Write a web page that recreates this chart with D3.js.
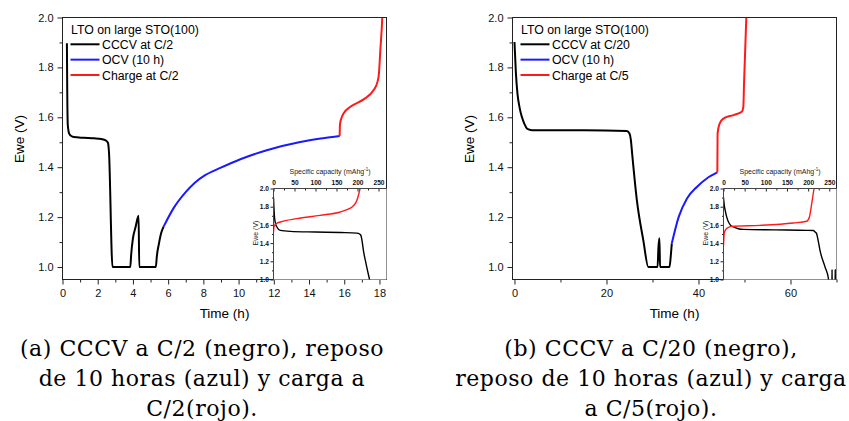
<!DOCTYPE html>
<html>
<head>
<meta charset="utf-8">
<script src="https://cdn.jsdelivr.net/npm/d3@7"></script>
<style>
  body { margin: 0; background: #fff; }
  svg { display: block; }
</style>
</head>
<body>
<svg id="chart" width="849" height="421"></svg>
<script>
// ---- data (time in h / capacity in mAh/g, voltage in V) ----
const legendTitle = "LTO on large STO(100)";
const leftLegend = ["CCCV at C/2", "OCV (10 h)", "Charge at C/2"];
const rightLegend = ["CCCV at C/20", "OCV (10 h)", "Charge at C/5"];
const seriesColors = ["#000000", "#1a1aff", "#ff1a1a"];

const leftTimeTicks = [0, 2, 4, 6, 8, 10, 12, 14, 16, 18];
const leftTimeMinor = [1, 3, 5, 7, 9, 11, 13, 15, 17];
const rightTimeTicks = [0, 20, 40, 60];
const rightTimeMinor = [10, 30, 50, 70];
const voltTicks = [1.0, 1.2, 1.4, 1.6, 1.8, 2.0];
const voltMinor = [1.1, 1.3, 1.5, 1.7, 1.9];
const capTicks = [0, 50, 100, 150, 200, 250];
const capMinor = [25, 75, 125, 175, 225];

const leftCccv = [[0.25, 1.897], [0.27, 1.70], [0.30, 1.57], [0.38, 1.535], [0.5, 1.525], [0.64, 1.521],
  [1.2, 1.518], [1.8, 1.516], [2.2, 1.513], [2.45, 1.508], [2.58, 1.498], [2.64, 1.46], [2.84, 1.0],
  [3.85, 1.0], [3.9, 1.05], [4.0, 1.115], [4.15, 1.16], [4.32, 1.205], [4.36, 1.0], [5.3, 1.0],
  [5.36, 1.045], [5.48, 1.095], [5.6, 1.135], [5.75, 1.163]];
const leftOcv = [[5.75, 1.163], [6.3, 1.235], [6.97, 1.298], [7.5, 1.337], [8.1, 1.368], [8.96, 1.397],
  [10.1, 1.432], [11.6, 1.468], [13.5, 1.501], [14.8, 1.516], [15.74, 1.525]];
const leftCharge = [[15.74, 1.525], [15.76, 1.573], [15.85, 1.598], [15.97, 1.616], [16.35, 1.642],
  [17.1, 1.672], [17.67, 1.709], [17.88, 1.74], [17.97, 1.775], [18.05, 1.869], [18.16, 2.0], [18.2, 2.08]];
const leftInsetDischarge = [[0, 1.90], [1, 1.80], [2.4, 1.687], [5, 1.61], [8, 1.577], [16, 1.54],
  [40, 1.529], [100, 1.522], [160, 1.516], [198.5, 1.51], [205, 1.50], [208, 1.485], [211, 1.42],
  [214, 1.32], [220, 1.18], [228.6, 1.0], [232, 0.93]];
const leftInsetCharge = [[0, 1.521], [0.8, 1.57], [2.4, 1.595], [8, 1.618], [16, 1.632], [55.7, 1.669],
  [111, 1.705], [159, 1.742], [175, 1.768], [187, 1.797], [194, 1.83], [198.5, 1.871], [203, 1.94],
  [206, 2.0], [208, 2.05]];

const rightCccv = [[0, 1.902], [0.3, 1.78], [0.65, 1.695], [1.1, 1.64], [1.6, 1.602], [2.2, 1.572],
  [2.7, 1.555], [3.5, 1.549], [4.1, 1.548], [15, 1.548], [24.4, 1.545], [25.0, 1.535], [25.3, 1.51],
  [25.6, 1.45], [26.6, 1.268], [28.0, 1.108], [29.1, 1.0], [31.1, 1.0], [31.3, 1.08], [31.5, 1.115],
  [31.65, 1.0], [33.7, 1.0], [34.0, 1.05], [34.2, 1.095]];
const rightOcv = [[34.2, 1.095], [35.7, 1.201], [37.5, 1.275], [39.7, 1.322], [41.8, 1.355], [44.1, 1.379]];
const rightCharge = [[44.1, 1.379], [44.15, 1.535], [44.6, 1.575], [45.4, 1.595], [47.6, 1.609],
  [49.4, 1.622], [49.75, 1.642], [49.9, 1.736], [50.4, 2.0], [50.5, 2.05]];
const rightInsetDischarge = [[0, 1.90], [2, 1.81], [4, 1.76], [8, 1.68], [11.8, 1.632], [17, 1.595],
  [23.6, 1.577], [35, 1.558], [47, 1.551], [120, 1.545], [196.7, 1.54], [212, 1.538], [216, 1.525],
  [220, 1.504], [224, 1.42], [228, 1.32], [240, 1.136], [248, 1.008], [249, 0.95],
  [256.3, 0.95], [256.5, 1.107], [256.7, 0.95], [263.8, 0.95], [264, 1.107], [264.2, 0.95]];
const rightInsetCharge = [[0, 1.375], [0.8, 1.45], [1.6, 1.504], [4, 1.54], [7, 1.559], [12, 1.573],
  [20, 1.584], [86.5, 1.595], [165, 1.621], [196.7, 1.64], [200, 1.655], [203, 1.687], [206, 1.76],
  [208.5, 1.835], [214, 2.0], [216, 2.05]];

const captionLeft = ["(a) CCCV a C/2 (negro), reposo", "de 10 horas (azul) y carga a", "C/2(rojo)."];
const captionRight = ["(b) CCCV a C/20 (negro),", "reposo de 10 horas (azul) y carga", "a C/5(rojo)."];

// ---- layout ----
const SANS = "'Liberation Sans', Arial, sans-serif";
const svg = d3.select("#chart");
const plotTop = 17.5, plotBottom = 279.5;
const insetTop = 188.5;

const panels = [
  { id: "a", left: 62.5, right: 386.5, xDomain: [0, 18.4], ticks: leftTimeTicks, minor: leftTimeMinor,
    legend: leftLegend, series: [leftCccv, leftOcv, leftCharge],
    insetLeft: 273.5, capDomain: [0, 269], inset: [leftInsetDischarge, leftInsetCharge],
    caption: captionLeft, captionX: 202 },
  { id: "b", left: 512.5, right: 836.5, xDomain: [-0.43, 70.0], ticks: rightTimeTicks, minor: rightTimeMinor,
    legend: rightLegend, series: [rightCccv, rightOcv, rightCharge],
    insetLeft: 723.5, capDomain: [0, 267], inset: [rightInsetDischarge, rightInsetCharge],
    caption: captionRight, captionX: 651 }
];

function styleAxis(g, size) {
  g.select(".domain").remove();
  g.selectAll("line").attr("stroke", "#222");
  g.selectAll("text").attr("font-family", SANS).attr("font-size", size).attr("fill", "#111");
}

panels.forEach(p => {
  const g = svg.append("g");
  const x = d3.scaleLinear().domain(p.xDomain).range([p.left, p.right]);
  const y = d3.scaleLinear().domain([0.95, 2.0]).range([plotBottom, plotTop]);

  svg.append("clipPath").attr("id", "clip-" + p.id)
    .append("rect").attr("x", p.left).attr("y", plotTop)
    .attr("width", p.right - p.left).attr("height", plotBottom - plotTop);

  // axes
  g.append("g").attr("transform", `translate(0,${plotBottom})`)
    .call(d3.axisBottom(x).tickValues(p.ticks).tickSize(5).tickPadding(5).tickFormat(d3.format("d")))
    .call(a => styleAxis(a, "11px"));
  g.append("g").attr("transform", `translate(0,${plotBottom})`)
    .call(d3.axisBottom(x).tickValues(p.minor).tickSize(3).tickFormat(""))
    .call(a => styleAxis(a, "11px"));
  g.append("g").attr("transform", `translate(${p.left},0)`)
    .call(d3.axisLeft(y).tickValues(voltTicks).tickSize(5).tickPadding(4).tickFormat(d3.format(".1f")))
    .call(a => styleAxis(a, "11px"));
  g.append("g").attr("transform", `translate(${p.left},0)`)
    .call(d3.axisLeft(y).tickValues(voltMinor).tickSize(3).tickFormat(""))
    .call(a => styleAxis(a, "11px"));

  // curves
  const line = d3.line().x(d => x(d[0])).y(d => y(d[1])).curve(d3.curveMonotoneX);
  const curves = g.append("g").attr("clip-path", `url(#clip-${p.id})`);
  p.series.forEach((s, i) => {
    curves.append("path").datum(s).attr("d", line)
      .attr("fill", "none").attr("stroke", seriesColors[i]).attr("stroke-width", 2)
      .attr("stroke-linejoin", "round");
  });

  g.append("rect").attr("x", p.left).attr("y", plotTop)
    .attr("width", p.right - p.left).attr("height", plotBottom - plotTop)
    .attr("fill", "none").attr("stroke", "#222").attr("stroke-width", 1);

  // axis titles
  g.append("text").attr("x", (p.left + p.right) / 2).attr("y", 318)
    .attr("text-anchor", "middle").attr("font-family", SANS).attr("font-size", "13.5px")
    .text("Time (h)");
  g.append("text").attr("transform", `translate(${p.left - 38.5},139) rotate(-90)`)
    .attr("text-anchor", "middle").attr("font-family", SANS).attr("font-size", "13.5px")
    .text("Ewe (V)");

  // legend
  const lg = g.append("g").attr("transform", `translate(${p.left + 8},0)`);
  lg.append("text").attr("x", 0.5).attr("y", 34.3)
    .attr("font-family", SANS).attr("font-size", "12.3px").text(legendTitle);
  p.legend.forEach((name, i) => {
    const ly = 44.3 + i * 15.35;
    lg.append("line").attr("x1", 0).attr("x2", 29).attr("y1", ly).attr("y2", ly)
      .attr("stroke", seriesColors[i]).attr("stroke-width", 2);
    lg.append("text").attr("x", 31.5).attr("y", ly + 4.5)
      .attr("font-family", SANS).attr("font-size", "12.3px").text(name);
  });

  // inset
  const ix = d3.scaleLinear().domain(p.capDomain).range([p.insetLeft, p.right]);
  const iy = d3.scaleLinear().domain([1.0, 2.0]).range([plotBottom, insetTop]);
  const ig = g.append("g");
  ig.append("rect").attr("x", p.insetLeft).attr("y", insetTop)
    .attr("width", p.right - p.insetLeft).attr("height", plotBottom - insetTop).attr("fill", "#fff");
  svg.append("clipPath").attr("id", "iclip-" + p.id)
    .append("rect").attr("x", p.insetLeft).attr("y", insetTop)
    .attr("width", p.right - p.insetLeft).attr("height", plotBottom - insetTop);
  const iline = d3.line().x(d => ix(d[0])).y(d => iy(d[1])).curve(d3.curveMonotoneX);
  const icurves = ig.append("g").attr("clip-path", `url(#iclip-${p.id})`);
  p.inset.forEach((s, i) => {
    icurves.append("path").datum(s).attr("d", iline)
      .attr("fill", "none").attr("stroke", i === 0 ? seriesColors[0] : seriesColors[2])
      .attr("stroke-width", 1.4).attr("stroke-linejoin", "round");
  });

  ig.append("g").attr("transform", `translate(0,${insetTop})`)
    .call(d3.axisTop(ix).tickValues(capTicks).tickSize(-3).tickPadding(4).tickFormat(d3.format("d")))
    .call(a => styleAxis(a, "6.6px"))
    .call(a => a.selectAll("text").attr("font-weight", "bold"));
  ig.append("g").attr("transform", `translate(0,${insetTop})`)
    .call(d3.axisTop(ix).tickValues(capMinor).tickSize(-2).tickFormat(""))
    .call(a => styleAxis(a, "6.6px"));
  ig.append("g").attr("transform", `translate(${p.insetLeft},0)`)
    .call(d3.axisLeft(iy).tickValues(voltTicks).tickSize(3).tickPadding(1.5).tickFormat(d3.format(".1f")))
    .call(a => styleAxis(a, "6.6px"))
    .call(a => a.selectAll("text").attr("font-weight", "bold"));
  ig.append("g").attr("transform", `translate(${p.insetLeft},0)`)
    .call(d3.axisLeft(iy).tickValues(voltMinor).tickSize(1.5).tickFormat(""))
    .call(a => styleAxis(a, "6.6px"));
  ig.append("path")
    .attr("d", `M${p.insetLeft},${plotBottom}V${insetTop}H${p.right}`)
    .attr("fill", "none").attr("stroke", "#444").attr("stroke-width", 1);

  const cap = ig.append("text").attr("x", (p.insetLeft + p.right) / 2).attr("y", 174)
    .attr("text-anchor", "middle").attr("font-family", SANS).attr("font-size", "7px").attr("fill", "#222");
  cap.append("tspan").text("Specific capacity (mAhg");
  cap.append("tspan").attr("font-size", "4.5px").attr("dy", -2.8).text("-1");
  cap.append("tspan").attr("dy", 2.8).text(")");
  ig.append("text").attr("transform", `translate(${p.insetLeft - 16},233) rotate(-90)`)
    .attr("text-anchor", "middle").attr("font-family", SANS).attr("font-size", "7px").attr("fill", "#222")
    .text("Ewe (V)");

  // caption
  p.caption.forEach((t, i) => {
    svg.append("text").attr("x", p.captionX).attr("y", 355.7 + i * 30)
      .attr("text-anchor", "middle").attr("font-family", "'DejaVu Serif', serif")
      .attr("font-size", "22px").attr("letter-spacing", "0.55px").attr("fill", "#000").text(t);
  });
});
</script>
</body>
</html>
